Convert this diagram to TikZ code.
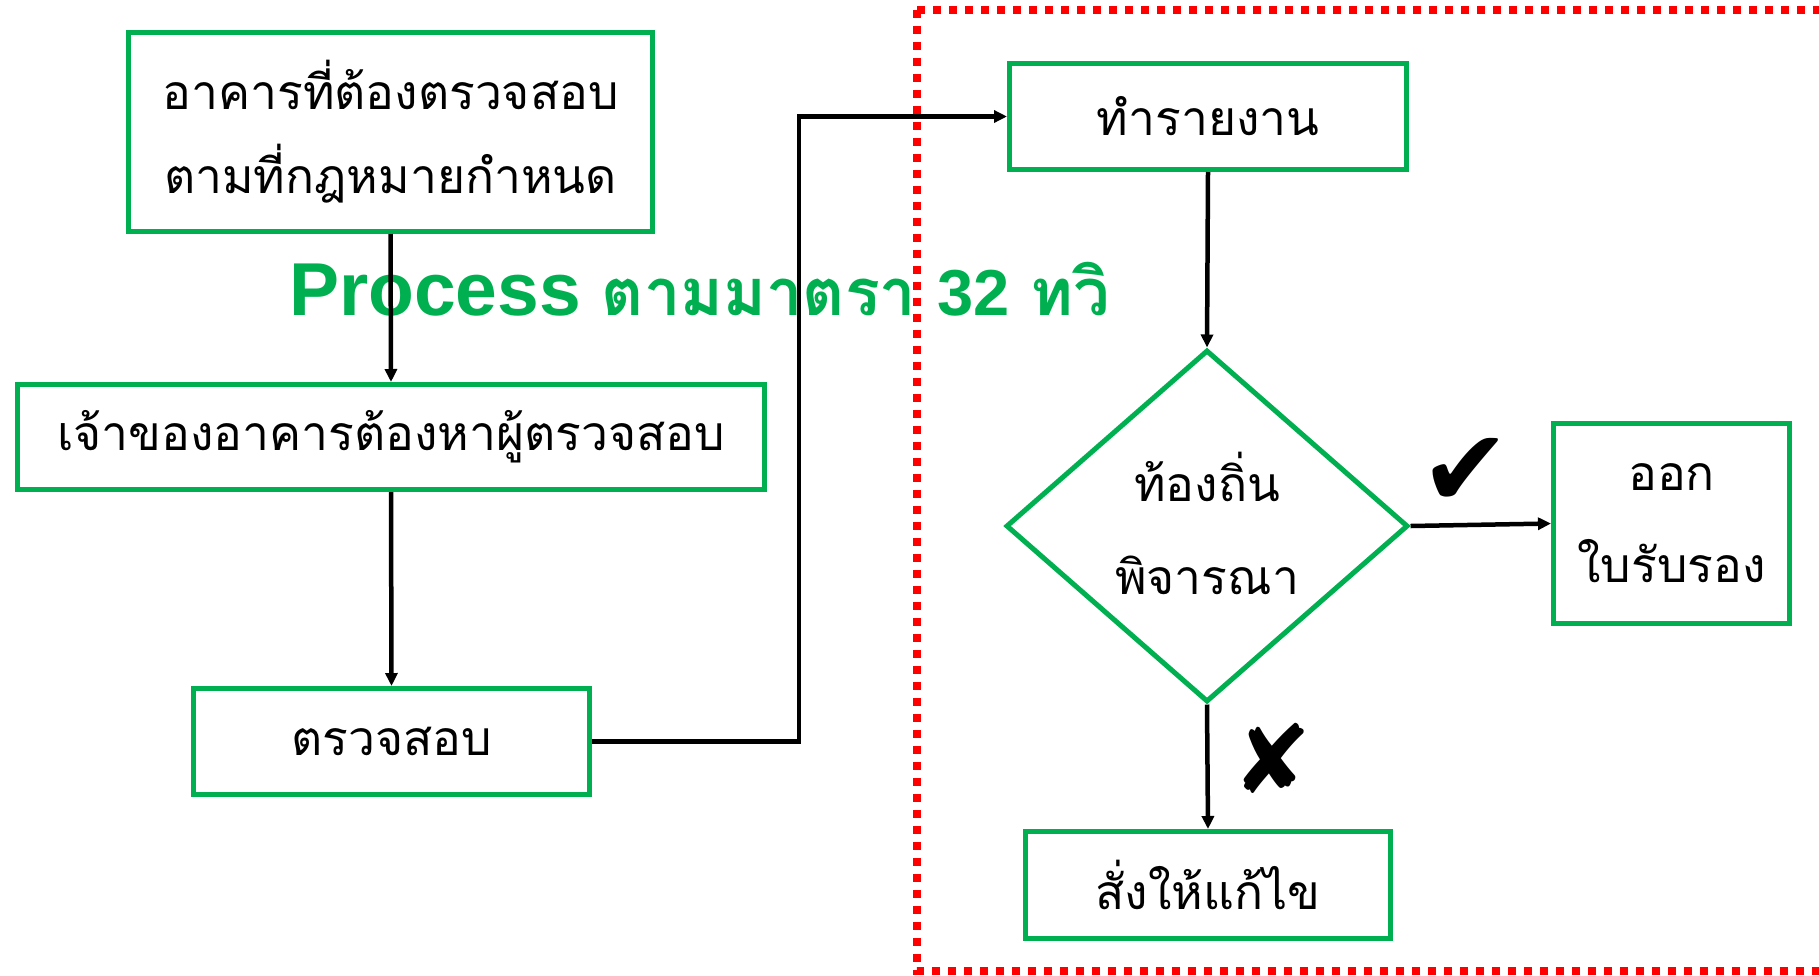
\documentclass[tikz,border=0pt]{standalone}
\usepackage{fontspec}
\usetikzlibrary{shapes.geometric,arrows.meta}
\newfontfamily\thaifont[Script=Thai]{Loma}
\newfontfamily\arialfont{Liberation Sans}
\newfontfamily\symfont{DejaVu Sans}
\definecolor{pgreen}{HTML}{00B050}
\definecolor{pred}{HTML}{FF0000}
\tikzset{
  box/.style={draw=pgreen, line width=5pt, rectangle, inner sep=0pt, align=center,
    font=\thaifont\fontsize{48}{84}\selectfont},
  dia/.style={draw=pgreen, line width=5pt, diamond, inner sep=0pt},
  arr/.style={-{Triangle[length=13pt,width=12pt]}, line width=4.5pt, black},
  tickmark/.style={inner sep=0pt, text=black},
}
\begin{document}
\begin{tikzpicture}[x=1pt,y=-1pt]
\useasboundingbox (0,0) rectangle (1819,975);
% title
\node[anchor=base west, inner sep=0pt, text=pgreen] (title) at (289,315)
  {\arialfont\bfseries\fontsize{75}{80}\selectfont Process {\thaifont\bfseries\fontsize{65}{70}\selectfont ตามมาตรา} {\fontsize{65}{70}\selectfont 32} {\thaifont\bfseries\fontsize{65}{70}\selectfont ทวิ}};
% red dotted region
\draw[pred, line width=8pt, dash pattern=on 8pt off 8pt] (917,10) rectangle (1840,971);
% boxes
\node[box, minimum width=524pt, minimum height=199pt] (b1) at (390.5,132) {อาคารที่ต้องตรวจสอบ\\ตามที่กฎหมายกำหนด};
\node[box, minimum width=747pt, minimum height=105pt] (b2) at (391,437) {เจ้าของอาคารต้องหาผู้ตรวจสอบ};
\node[box, minimum width=396pt, minimum height=106pt] (b3) at (391.5,741.5) {ตรวจสอบ};
\node[box, minimum width=397pt, minimum height=106pt] (b4) at (1208,116.5) {ทำรายงาน};
\node[dia, minimum width=402pt, minimum height=352pt] (d) at (1207,526) {};
\node[align=center, inner sep=0pt, font=\thaifont\fontsize{48}{93}\selectfont] (dt) at (1207,523) {ท้องถิ่น\\พิจารณา};
\node[box, minimum width=236pt, minimum height=200pt, font=\thaifont\fontsize{48}{92}\selectfont] (b5) at (1671.5,523.5) {ออก\\ใบรับรอง};
\node[box, minimum width=365pt, minimum height=107pt] (b6) at (1208,885) {สั่งให้แก้ไข};
% marks
\node[tickmark, font=\symfont\fontsize{108}{108}\selectfont] (ok) at (1466,472) {✔};
\node[tickmark, font=\symfont\fontsize{95}{95}\selectfont] (no) at (1272,758) {✘};
% connectors
\coordinate (k1) at (799,741.5);
\coordinate (k2) at (799,116.5);
\draw[arr] (b1.south) -- (b2.north);
\draw[arr] (b2.south) -- (b3.north);
\draw[arr] (b3.east) -- (k1) -- (k2) -- (b4.west);
\draw[arr] (b4.south) -- (d.north);
\draw[arr] (d.east) -- (b5.west);
\draw[arr] (d.south) -- (b6.north);
\end{tikzpicture}
\end{document}
